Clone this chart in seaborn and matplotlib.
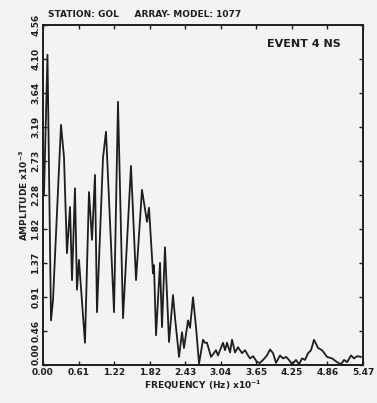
"""
Spectrum plot: station GOL, array model 1077, event 4 NS.
"""

import numpy as np
import pandas as pd
import matplotlib
matplotlib.use("Agg")
import matplotlib.pyplot as plt
import seaborn as sns

# frequency (Hz x 1e-1) and amplitude (x 1e-3)
freq = [0.017, 0.077, 0.137, 0.171, 0.308, 0.359, 0.410, 0.462, 0.496, 0.547,
        0.581, 0.615, 0.718, 0.786, 0.838, 0.889, 0.923, 1.026, 1.077, 1.214,
        1.282, 1.368, 1.504, 1.590, 1.692, 1.778, 1.812, 1.880, 1.897, 1.932,
        2.000, 2.034, 2.085, 2.154, 2.222, 2.256, 2.325, 2.376, 2.410, 2.479,
        2.513, 2.564, 2.615, 2.667, 2.735, 2.769, 2.803, 2.872, 2.957, 2.991,
        3.077, 3.111, 3.145, 3.197, 3.231, 3.282, 3.333, 3.402, 3.453, 3.504,
        3.538, 3.590, 3.658, 3.709, 3.761, 3.829, 3.880, 3.932, 3.983, 4.051,
        4.103, 4.154, 4.205, 4.256, 4.324, 4.376, 4.427, 4.478, 4.530, 4.581,
        4.632, 4.701, 4.769, 4.855, 4.940, 5.025, 5.094, 5.145, 5.197, 5.265,
        5.316, 5.367, 5.436]
amp = [2.28, 4.16, 0.60, 0.87, 3.22, 2.79, 1.50, 2.12, 1.14, 2.37,
       1.01, 1.41, 0.30, 2.32, 1.68, 2.55, 0.71, 2.78, 3.13, 0.71,
       3.53, 0.63, 2.67, 1.14, 2.35, 1.92, 2.11, 1.23, 1.34, 0.40,
       1.37, 0.51, 1.58, 0.31, 0.94, 0.64, 0.11, 0.44, 0.23, 0.60,
       0.50, 0.91, 0.51, 0.02, 0.34, 0.30, 0.30, 0.11, 0.20, 0.13,
       0.30, 0.20, 0.30, 0.17, 0.34, 0.17, 0.24, 0.16, 0.20, 0.13,
       0.09, 0.12, 0.04, 0.03, 0.07, 0.13, 0.21, 0.16, 0.03, 0.13,
       0.09, 0.11, 0.07, 0.01, 0.07, 0.01, 0.09, 0.07, 0.16, 0.20,
       0.34, 0.23, 0.20, 0.11, 0.09, 0.04, 0.01, 0.07, 0.04, 0.13,
       0.09, 0.12, 0.11]

xtick_labels = ["0.00", "0.61", "1.22", "1.82", "2.43", "3.04", "3.65",
                "4.25", "4.86", "5.47"]
ytick_labels = ["0.00", "0.46", "0.91", "1.37", "1.82", "2.28", "2.73",
                "3.19", "3.64", "4.10", "4.56"]
x_max = 5.47
y_max = 4.56

df = pd.DataFrame({"freq": freq, "amp": amp})

sns.set_style("ticks")
plt.rcParams["font.family"] = ["DejaVu Sans"]
plt.rcParams["font.weight"] = "bold"

ink = "#1e1e1e"
paper = "#f3f3f1"

fig = plt.figure(figsize=(3.77, 4.03), dpi=100, facecolor=paper)
ax = fig.add_axes([0.114, 0.094, 0.849, 0.844], facecolor=paper)

sns.lineplot(data=df, x="freq", y="amp", ax=ax, color=ink, lw=1.3,
             estimator=None, sort=False)

ax.set_xlim(0, x_max)
ax.set_ylim(0, y_max)
ax.set_xticks(np.linspace(0, x_max, len(xtick_labels)))
ax.set_xticklabels(xtick_labels, fontsize=6.5, fontweight="bold", color=ink)
ax.set_yticks(np.linspace(0, y_max, len(ytick_labels)))
ax.set_yticklabels(ytick_labels, fontsize=6.5, fontweight="bold", color=ink,
                   rotation=90, va="center")
ax.tick_params(direction="in", length=3, width=1, color=ink, pad=2,
               top=True, right=True)
# nudge the two corner zeros apart, as on the scan
ax.get_yticklabels()[0].set_va("bottom")
for s in ax.spines.values():
    s.set_color(ink)
    s.set_linewidth(1.4)
    s.set_visible(True)

ax.set_xlabel("FREQUENCY (Hz) x10$^{\\mathbf{-1}}$", fontsize=6.5,
              fontweight="bold", color=ink, labelpad=1)
ax.set_ylabel("AMPLITUDE x10$^{\\mathbf{-3}}$", fontsize=6.5,
              fontweight="bold", color=ink, labelpad=1)

fig.text(0.127, 0.965, "STATION: GOL     ARRAY- MODEL: 1077", fontsize=6.5,
         fontweight="bold", color=ink, va="center")
ax.text(0.93, 0.945, "EVENT 4 NS", transform=ax.transAxes, fontsize=8,
        fontweight="bold", color=ink, ha="right", va="center")

plt.savefig("out.png", dpi=100, facecolor=paper)
plt.close()
